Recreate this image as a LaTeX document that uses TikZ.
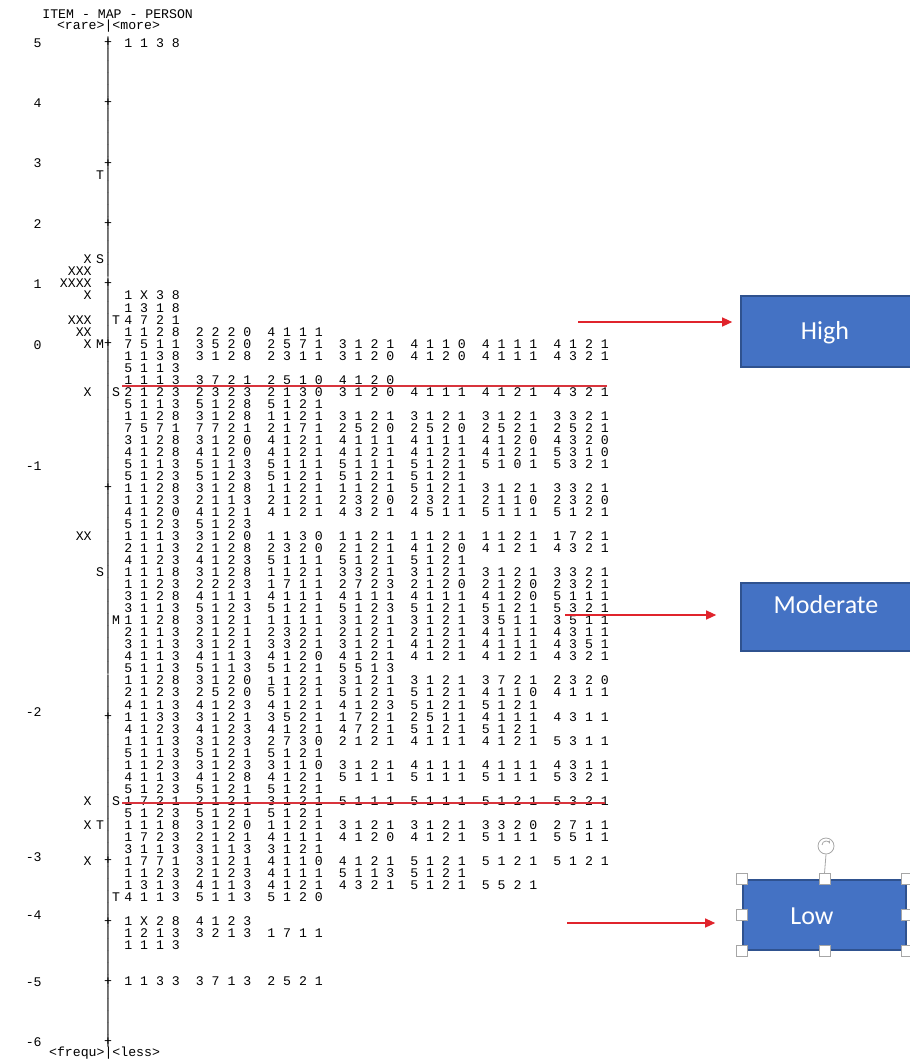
\documentclass[tikz,border=0pt]{standalone}
\usepackage{fontspec}
\newfontfamily\mapfont{Liberation Mono}
\newfontfamily\boxfont{Carlito}
\usetikzlibrary{arrows.meta}
\definecolor{boxblue}{HTML}{4472C4}
\definecolor{boxedge}{HTML}{2F528F}
\definecolor{cutred}{HTML}{D8343C}
\definecolor{arrowred}{HTML}{E0242C}
\tikzstyle{digits}=[anchor=west,inner sep=0pt,font=\fontsize{6.6}{7}\mapfont]
\tikzstyle{persons}=[anchor=east,inner sep=0pt,font=\fontsize{6.6}{7}\mapfont]
\tikzstyle{marker}=[inner sep=0pt,font=\fontsize{6.6}{7}\mapfont]
\tikzstyle{cutline}=[cutred,line width=0.8pt]
\tikzstyle{levelarrow}=[arrowred,line width=0.6pt,-{Triangle[length=5pt,width=4.5pt]}]
\tikzstyle{levelbox}=[draw=boxedge,fill=boxblue,line width=0.8pt,inner sep=0pt]
\tikzstyle{boxtext}=[text=white,inner sep=0pt,font=\fontsize{13}{15}\boxfont]
\tikzstyle{handle}=[draw=gray!70,fill=white,minimum size=5.5pt,inner sep=0pt,line width=0.4pt]
% one line of the map: line number, groups of codes
\newcommand{\maprow}[2]{
\pgfmathsetmacro{\yy}{43+12.03*#1}
    \foreach \g [count=\k] in {#2} {
      \node[digits] (row#1g\k) at ({124+71.5*(\k-1)},\yy) {\g};
    }
}
% left side of a line: line number, X's, marker
\newcommand{\personrow}[3]{
\pgfmathsetmacro{\yy}{43+12.03*#1}
\node[persons] (pers#1) at (92,\yy) {#2};
\node[marker] (pm#1) at (100,\yy) {#3};
}
\newcommand{\itemmark}[2]{
\pgfmathsetmacro{\yy}{43+12.03*#1}
\node[marker] (im#1) at (116,\yy) {#2};
}

\begin{document}
\begin{tikzpicture}[x=0.5pt,y=-0.5pt]
	\useasboundingbox (0,0) rectangle (910,1060);
	% header and footer
	\node[digits] (title) at (42,14) {ITEM - MAP - PERSON};
	\node[digits] (topkey) at (56.6,26) {<rare>|<more>};
	\node[digits] (botkey) at (48.7,1053.5) {<frequ>|<less>};
	% axis
	\foreach \n in {0,...,83} {
	  \pgfmathsetmacro{\yy}{43+12.03*\n}
	  \node[marker] (ax\n) at (108,\yy) {|};
	}
	\foreach \n in {0,5,10,15,20,25,37,56,68,73,78,83} {
	  \pgfmathsetmacro{\yy}{43+12.03*\n}
	  \node[marker] (tk\n) at (108,\yy) {+};
	}
	\foreach \v/\yy in {5/43,4/103,3/163,2/224,1/284,0/345,-1/466,-2/712,-3/857,-4/915,-5/982,-6/1042} {
	  \node[persons] (lab\v) at (42,\yy) {\v};
	}
	% persons side
	\personrow{11}{}{T}
	\personrow{18}{X}{S}
	\personrow{19}{XXX}{}
	\personrow{20}{XXXX}{}
	\personrow{21}{X}{}
	\personrow{23}{XXX}{}
	\personrow{24}{XX}{}
	\personrow{25}{X}{M}
	\personrow{29}{X}{}
	\personrow{41}{XX}{}
	\personrow{44}{}{S}
	\personrow{63}{X}{}
	\personrow{65}{X}{T}
	\personrow{68}{X}{}
	\itemmark{23}{T}
	\itemmark{29}{S}
	\itemmark{48}{M}
	\itemmark{63}{S}
	\itemmark{71}{T}
	% codes
	\maprow{0}{1 1 3 8}
	\maprow{21}{1 X 3 8}
	\maprow{22}{1 3 1 8}
	\maprow{23}{4 7 2 1}
	\maprow{24}{1 1 2 8,2 2 2 0,4 1 1 1}
	\maprow{25}{7 5 1 1,3 5 2 0,2 5 7 1,3 1 2 1,4 1 1 0,4 1 1 1,4 1 2 1}
	\maprow{26}{1 1 3 8,3 1 2 8,2 3 1 1,3 1 2 0,4 1 2 0,4 1 1 1,4 3 2 1}
	\maprow{27}{5 1 1 3}
	\maprow{28}{1 1 1 3,3 7 2 1,2 5 1 0,4 1 2 0}
	\maprow{29}{2 1 2 3,2 3 2 3,2 1 3 0,3 1 2 0,4 1 1 1,4 1 2 1,4 3 2 1}
	\maprow{30}{5 1 1 3,5 1 2 8,5 1 2 1}
	\maprow{31}{1 1 2 8,3 1 2 8,1 1 2 1,3 1 2 1,3 1 2 1,3 1 2 1,3 3 2 1}
	\maprow{32}{7 5 7 1,7 7 2 1,2 1 7 1,2 5 2 0,2 5 2 0,2 5 2 1,2 5 2 1}
	\maprow{33}{3 1 2 8,3 1 2 0,4 1 2 1,4 1 1 1,4 1 1 1,4 1 2 0,4 3 2 0}
	\maprow{34}{4 1 2 8,4 1 2 0,4 1 2 1,4 1 2 1,4 1 2 1,4 1 2 1,5 3 1 0}
	\maprow{35}{5 1 1 3,5 1 1 3,5 1 1 1,5 1 1 1,5 1 2 1,5 1 0 1,5 3 2 1}
	\maprow{36}{5 1 2 3,5 1 2 3,5 1 2 1,5 1 2 1,5 1 2 1}
	\maprow{37}{1 1 2 8,3 1 2 8,1 1 2 1,1 1 2 1,5 1 2 1,3 1 2 1,3 3 2 1}
	\maprow{38}{1 1 2 3,2 1 1 3,2 1 2 1,2 3 2 0,2 3 2 1,2 1 1 0,2 3 2 0}
	\maprow{39}{4 1 2 0,4 1 2 1,4 1 2 1,4 3 2 1,4 5 1 1,5 1 1 1,5 1 2 1}
	\maprow{40}{5 1 2 3,5 1 2 3}
	\maprow{41}{1 1 1 3,3 1 2 0,1 1 3 0,1 1 2 1,1 1 2 1,1 1 2 1,1 7 2 1}
	\maprow{42}{2 1 1 3,2 1 2 8,2 3 2 0,2 1 2 1,4 1 2 0,4 1 2 1,4 3 2 1}
	\maprow{43}{4 1 2 3,4 1 2 3,5 1 1 1,5 1 2 1,5 1 2 1}
	\maprow{44}{1 1 1 8,3 1 2 8,1 1 2 1,3 3 2 1,3 1 2 1,3 1 2 1,3 3 2 1}
	\maprow{45}{1 1 2 3,2 2 2 3,1 7 1 1,2 7 2 3,2 1 2 0,2 1 2 0,2 3 2 1}
	\maprow{46}{3 1 2 8,4 1 1 1,4 1 1 1,4 1 1 1,4 1 1 1,4 1 2 0,5 1 1 1}
	\maprow{47}{3 1 1 3,5 1 2 3,5 1 2 1,5 1 2 3,5 1 2 1,5 1 2 1,5 3 2 1}
	\maprow{48}{1 1 2 8,3 1 2 1,1 1 1 1,3 1 2 1,3 1 2 1,3 5 1 1,3 5 1 1}
	\maprow{49}{2 1 1 3,2 1 2 1,2 3 2 1,2 1 2 1,2 1 2 1,4 1 1 1,4 3 1 1}
	\maprow{50}{3 1 1 3,3 1 2 1,3 3 2 1,3 1 2 1,4 1 2 1,4 1 1 1,4 3 5 1}
	\maprow{51}{4 1 1 3,4 1 1 3,4 1 2 0,4 1 2 1,4 1 2 1,4 1 2 1,4 3 2 1}
	\maprow{52}{5 1 1 3,5 1 1 3,5 1 2 1,5 5 1 3}
	\maprow{53}{1 1 2 8,3 1 2 0,1 1 2 1,3 1 2 1,3 1 2 1,3 7 2 1,2 3 2 0}
	\maprow{54}{2 1 2 3,2 5 2 0,5 1 2 1,5 1 2 1,5 1 2 1,4 1 1 0,4 1 1 1}
	\maprow{55}{4 1 1 3,4 1 2 3,4 1 2 1,4 1 2 3,5 1 2 1,5 1 2 1}
	\maprow{56}{1 1 3 3,3 1 2 1,3 5 2 1,1 7 2 1,2 5 1 1,4 1 1 1,4 3 1 1}
	\maprow{57}{4 1 2 3,4 1 2 3,4 1 2 1,4 7 2 1,5 1 2 1,5 1 2 1}
	\maprow{58}{1 1 1 3,3 1 2 3,2 7 3 0,2 1 2 1,4 1 1 1,4 1 2 1,5 3 1 1}
	\maprow{59}{5 1 1 3,5 1 2 1,5 1 2 1}
	\maprow{60}{1 1 2 3,3 1 2 3,3 1 1 0,3 1 2 1,4 1 1 1,4 1 1 1,4 3 1 1}
	\maprow{61}{4 1 1 3,4 1 2 8,4 1 2 1,5 1 1 1,5 1 1 1,5 1 1 1,5 3 2 1}
	\maprow{62}{5 1 2 3,5 1 2 1,5 1 2 1}
	\maprow{63}{1 7 2 1,2 1 2 1,3 1 2 1,5 1 1 1,5 1 1 1,5 1 2 1,5 3 2 1}
	\maprow{64}{5 1 2 3,5 1 2 1,5 1 2 1}
	\maprow{65}{1 1 1 8,3 1 2 0,1 1 2 1,3 1 2 1,3 1 2 1,3 3 2 0,2 7 1 1}
	\maprow{66}{1 7 2 3,2 1 2 1,4 1 1 1,4 1 2 0,4 1 2 1,5 1 1 1,5 5 1 1}
	\maprow{67}{3 1 1 3,3 1 1 3,3 1 2 1}
	\maprow{68}{1 7 7 1,3 1 2 1,4 1 1 0,4 1 2 1,5 1 2 1,5 1 2 1,5 1 2 1}
	\maprow{69}{1 1 2 3,2 1 2 3,4 1 1 1,5 1 1 3,5 1 2 1}
	\maprow{70}{1 3 1 3,4 1 1 3,4 1 2 1,4 3 2 1,5 1 2 1,5 5 2 1}
	\maprow{71}{4 1 1 3,5 1 1 3,5 1 2 0}
	\maprow{73}{1 X 2 8,4 1 2 3}
	\maprow{74}{1 2 1 3,3 2 1 3,1 7 1 1}
	\maprow{75}{1 1 1 3}
	\maprow{78}{1 1 3 3,3 7 1 3,2 5 2 1}
	% cut lines
	\draw[cutline] (122,386) -- (607,386);
	\draw[cutline] (122,803) -- (605,803);
	% level boxes
	\node[levelbox,minimum width=89.5pt,minimum height=35.5pt] (high) at (830.5,331.5) {};
	\node[boxtext] (hightxt) at (825,333) {High};
	\node[levelbox,minimum width=89.5pt,minimum height=34pt] (moderate) at (830.5,617) {};
	\node[boxtext] (moderatetxt) at (826,605) {Moderate};
	\node[levelbox,minimum width=81.5pt,minimum height=35pt] (low) at (824.5,915) {};
	\node[boxtext] (lowtxt) at (812,916) {Low};
	% arrows
	\coordinate (hiFrom) at (578,322);
	\coordinate (modFrom) at (565,615);
	\coordinate (lowFrom) at (567,923);
	\draw[levelarrow] (hiFrom) -- ([xshift=-4pt]hiFrom -| high.west);
	\draw[levelarrow] (modFrom) -- ([xshift=-12pt]modFrom -| moderate.west);
	\draw[levelarrow] (lowFrom) -- ([xshift=-13.5pt]lowFrom -| low.west);
	% selection handles
	\foreach \a in {north west,north,north east,west,east,south west,south,south east} {
	  \node[handle] (h-\a) at (low.\a) {};
	}
	\node[draw=gray!70,circle,minimum size=8pt,inner sep=0pt,line width=0.4pt] (rot) at (826,846) {};
	\draw[gray!70,line width=0.4pt,->,>={Stealth[length=1.5pt]}] ([shift={(-2pt,0.5pt)}]rot.center) arc (180:20:2pt);
	\draw[gray!70,line width=0.4pt] (rot.south) -- (h-north.north);
\end{tikzpicture}
\end{document}
